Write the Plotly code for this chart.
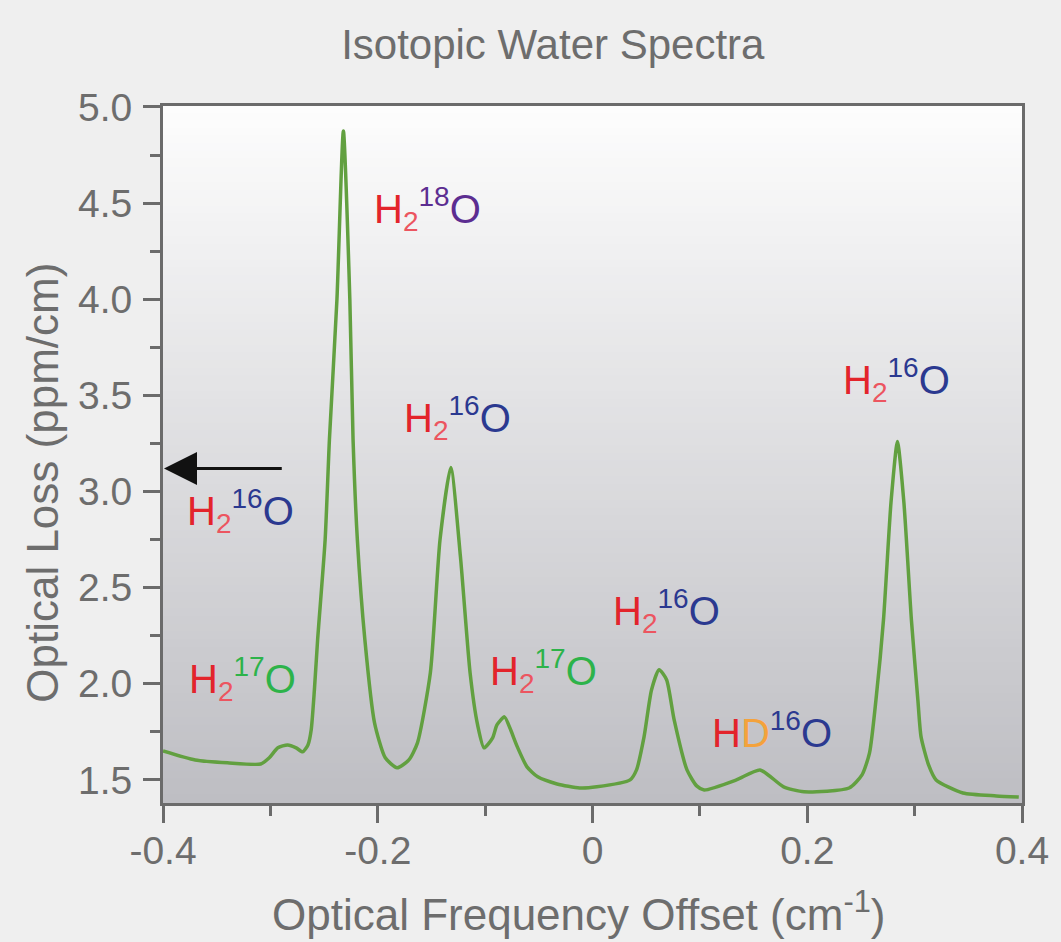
import plotly.graph_objects as go

# ---- data ----
freq_offset = [-0.400, -0.370, -0.340, -0.309, -0.301, -0.293, -0.284, -0.276, -0.270, -0.265,
               -0.262, -0.259, -0.256, -0.249, -0.245, -0.238, -0.232, -0.226, -0.223, -0.219,
               -0.212, -0.203, -0.193, -0.182, -0.171, -0.163, -0.151, -0.142, -0.132, -0.123,
               -0.114, -0.107, -0.101, -0.093, -0.089, -0.082, -0.077, -0.070, -0.061, -0.051,
               -0.033, -0.012, 0.004, 0.035, 0.041, 0.048, 0.055, 0.062, 0.069, 0.076,
               0.088, 0.097, 0.104, 0.134, 0.156, 0.178, 0.197, 0.239, 0.251, 0.258,
               0.264, 0.271, 0.278, 0.284, 0.290, 0.297, 0.303, 0.306, 0.313, 0.320,
               0.345, 0.376, 0.397]
optical_loss = [1.651, 1.604, 1.589, 1.583, 1.615, 1.667, 1.682, 1.667, 1.646, 1.682,
                1.760, 1.969, 2.229, 2.750, 3.271, 4.000, 4.875, 4.000, 3.271, 2.750,
                2.229, 1.797, 1.615, 1.563, 1.604, 1.693, 2.057, 2.750, 3.125, 2.661,
                2.057, 1.786, 1.667, 1.719, 1.786, 1.828, 1.771, 1.672, 1.568, 1.516,
                1.479, 1.458, 1.464, 1.500, 1.552, 1.724, 1.969, 2.073, 2.021, 1.813,
                1.552, 1.469, 1.448, 1.500, 1.552, 1.464, 1.438, 1.458, 1.526, 1.641,
                1.917, 2.333, 2.943, 3.260, 2.943, 2.333, 1.917, 1.724, 1.578, 1.500,
                1.432, 1.417, 1.411]

x_tickvals = [-0.4, -0.2, 0.0, 0.2, 0.4]
x_ticktext = ["-0.4", "-0.2", "0", "0.2", "0.4"]
y_tickvals = [1.5, 2.0, 2.5, 3.0, 3.5, 4.0, 4.5, 5.0]
y_ticktext = ["1.5", "2.0", "2.5", "3.0", "3.5", "4.0", "4.5", "5.0"]

# isotopologue labels: position and kind
label_x = [-0.154, -0.126, -0.328, -0.326, -0.046, 0.069, 0.167, 0.283]
label_y = [4.47, 3.38, 2.90, 2.025, 2.065, 2.38, 1.76, 3.58]
label_kind = ["18", "16", "16", "17", "17", "16", "HD", "16"]

TITLE = "Isotopic Water Spectra"
X_TITLE = "Optical Frequency Offset (cm<sup>-1</sup>)"
Y_TITLE = "Optical Loss (ppm/cm)"

RED = "#e3242b"
RED2 = "#ec5560"
BLUE = "#2b3990"
PURPLE = "#5c2d91"
GREEN = "#2db34a"
ORANGE = "#f4a23c"
GRAY = "#6d6d6d"
AXIS = "#6b6b6b"
FONT = "Liberation Sans, Arial, Helvetica, sans-serif"


def label_html(kind):
    if kind == "HD":
        return (f"<span style='color:{RED}'>H</span>"
                f"<span style='color:{ORANGE}'>D</span>"
                f"<span style='color:{BLUE}'><sup>16</sup>O</span>")
    col = {"16": BLUE, "17": GREEN, "18": PURPLE}[kind]
    return (f"<span style='color:{RED}'>H</span>"
            f"<span style='color:{RED2}'><sub>2</sub></span>"
            f"<span style='color:{col}'><sup>{kind}</sup>O</span>")


fig = go.Figure()
fig.add_trace(go.Scatter(
    x=freq_offset, y=optical_loss, mode="lines",
    line=dict(color="#62a040", width=3.5, shape="spline", smoothing=0.6),
    hoverinfo="skip", showlegend=False))

# gradient background of plot area
n_bands = 90
top_rgb = (253, 253, 253)
bot_rgb = (190, 190, 195)
for i in range(n_bands):
    t = i / (n_bands - 1)
    r = round(top_rgb[0] + (bot_rgb[0] - top_rgb[0]) * t)
    g = round(top_rgb[1] + (bot_rgb[1] - top_rgb[1]) * t)
    b = round(top_rgb[2] + (bot_rgb[2] - top_rgb[2]) * t)
    fig.add_shape(type="rect", xref="x domain", yref="y domain",
                  x0=0, x1=1, y0=1 - (i + 1) / n_bands, y1=1 - i / n_bands + 0.002,
                  fillcolor=f"rgb({r},{g},{b})", line=dict(width=0), layer="below")

for lx, ly, k in zip(label_x, label_y, label_kind):
    fig.add_annotation(x=lx, y=ly, text=label_html(k), showarrow=False,
                       font=dict(family=FONT, size=40))

# arrow pointing at the y axis
fig.add_annotation(x=-0.4, y=3.12, ax=-0.288, ay=3.12, axref="x", ayref="y",
                   xref="x", yref="y", text="", showarrow=True,
                   arrowhead=2, arrowsize=2.2, arrowwidth=3, arrowcolor="#111111",
                   standoff=1)

# axis titles
fig.add_annotation(text=X_TITLE, xref="paper", yref="paper", x=0.484, y=-0.155,
                   xanchor="center", yanchor="middle", showarrow=False,
                   font=dict(family=FONT, size=44, color=GRAY))
fig.add_annotation(text=Y_TITLE, xref="paper", yref="paper", x=-0.1404, y=0.46,
                   xanchor="center", yanchor="middle", showarrow=False, textangle=-90,
                   font=dict(family=FONT, size=44, color=GRAY))

fig.update_layout(
    width=1061, height=942,
    margin=dict(l=163, r=33, t=106, b=139),
    paper_bgcolor="#efefef", plot_bgcolor="rgba(0,0,0,0)",
    font=dict(family=FONT, color=GRAY, size=38),
    title=dict(text=TITLE, x=0.521, xanchor="center",
               y=0.953, yanchor="middle", font=dict(size=42, color=GRAY)),
)
fig.update_xaxes(
    range=[-0.4, 0.4], tickvals=x_tickvals, ticktext=x_ticktext,
    showline=True, linecolor=AXIS, linewidth=3, mirror=True,
    ticks="outside", ticklen=17, tickwidth=3, tickcolor=AXIS,
    minor=dict(ticks="outside", dtick=0.1, tick0=0, ticklen=10, tickwidth=3,
               tickcolor=AXIS, showgrid=False),
    showgrid=False, zeroline=False,
    tickfont=dict(size=39, color=GRAY), ticklabelstandoff=-6,
)
fig.update_yaxes(
    range=[1.38, 5.005], tickvals=y_tickvals, ticktext=y_ticktext,
    showline=True, linecolor=AXIS, linewidth=3, mirror=True,
    ticks="outside", ticklen=17, tickwidth=3, tickcolor=AXIS,
    minor=dict(ticks="outside", dtick=0.25, tick0=0, ticklen=10, tickwidth=3,
               tickcolor=AXIS, showgrid=False),
    showgrid=False, zeroline=False,
    tickfont=dict(size=39, color=GRAY), ticklabelstandoff=3,
)

fig.write_html("out.html", config={"displayModeBar": False},
               post_script="document.body.style.margin='0';"
                           "document.body.style.background='#efefef';")
